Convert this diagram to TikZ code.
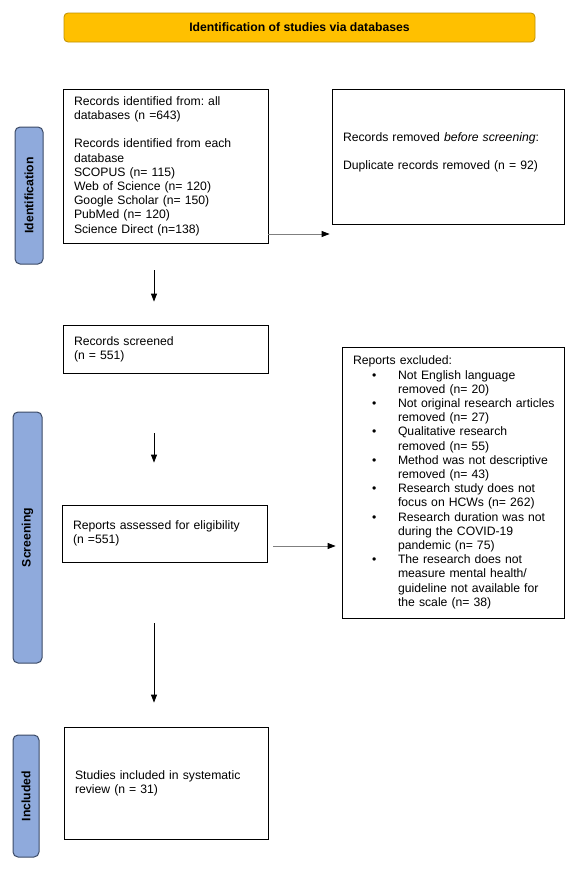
\documentclass[tikz,border=0pt]{standalone}
\usepackage{fontspec}
\setmainfont{Liberation Sans}
\usetikzlibrary{arrows.meta}

\definecolor{headgold}{HTML}{FFC000}
\definecolor{headedge}{HTML}{BF9000}
\definecolor{phaseblue}{HTML}{8FAADC}
\definecolor{phaseedge}{HTML}{3B4A66}
\definecolor{linkgray}{HTML}{7F7F7F}

\newcommand{\exbullet}[1]{\hspace*{19pt}\makebox[26pt][l]{\textbullet}\mbox{#1}}
\newcommand{\excont}[1]{\hspace*{45pt}\mbox{#1}}

\tikzset{
  flowfont/.style={font=\fontsize{12.2}{14.2}\selectfont\frenchspacing},
  stagebox/.style={draw=black, line width=0.8pt, align=left, inner xsep=11pt, inner ysep=4pt, flowfont},
  phasebar/.style={draw=phaseedge, fill=phaseblue, line width=1pt, rounded corners=5pt, font=\fontsize{12.2}{14.2}\selectfont\bfseries},
  flowarrow/.style={-{Triangle[length=8pt,width=6pt]}, line width=0.8pt},
  sidearrow/.style={draw=linkgray, line width=0.8pt, -{Triangle[length=8pt,width=6pt,color=black]}},
}

\begin{document}
\begin{tikzpicture}[x=1pt, y=-1pt]
\useasboundingbox (0,0) rectangle (579,870);

% header
\node[draw=headedge, fill=headgold, line width=0.8pt, rounded corners=4pt, minimum width=471pt, minimum height=29pt, font=\fontsize{12.2}{14.2}\selectfont\bfseries] (header) at (299.5,27.5) {Identification of studies via databases};

% phase bars
\node[phasebar, minimum width=137pt, minimum height=28pt, rotate=90] (identbar) at (29,195.5) {Identification};
\node[phasebar, minimum width=251pt, minimum height=29pt, rotate=90] (screenbar) at (27.5,537.5) {Screening};
\node[phasebar, minimum width=122pt, minimum height=26pt, rotate=90] (inclbar) at (26,796) {Included};

% stage boxes
\node[stagebox, text width=183pt, minimum height=154pt] (ident) at (165.5,166) {Records identified from: all\\ databases (n =643)\\[14.2pt] Records identified from each\\ database\\ SCOPUS (n= 115)\\ Web of Science (n= 120)\\ Google Scholar (n= 150)\\ PubMed (n= 120)\\ Science Direct (n=138)};
\node[stagebox, text width=210pt, minimum height=135pt] (removed) at (448,156.5) {Records removed \textit{before screening}:\\[14.2pt] Duplicate records removed (n = 92)\\[-8pt] \strut};
\node[stagebox, text width=183pt, minimum height=48pt] (screened) at (165.5,349) {Records screened\\ (n = 551)};
\node[stagebox, text width=183pt, minimum height=57pt] (assessed) at (164.5,533.5) {Reports assessed for eligibility\\ (n =551)};
\node[stagebox, text width=200pt, minimum height=271pt] (excluded) at (453,482.5) {Reports excluded:\\
\exbullet{Not English language}\\ \excont{removed (n= 20)}\\
\exbullet{Not original research articles}\\ \excont{removed (n= 27)}\\
\exbullet{Qualitative research}\\ \excont{removed (n= 55)}\\
\exbullet{Method was not descriptive}\\ \excont{removed (n= 43)}\\
\exbullet{Research study does not}\\ \excont{focus on HCWs (n= 262)}\\
\exbullet{Research duration was not}\\ \excont{during the COVID-19}\\ \excont{pandemic (n= 75)}\\
\exbullet{The research does not}\\ \excont{measure mental health/}\\ \excont{guideline not available for}\\ \excont{the scale (n= 38)}};
\node[stagebox, text width=182pt, minimum height=112pt] (included) at (166,783) {Studies included in systematic\\ review (n = 31)};

% connectors
\draw[flowarrow, shorten <=27pt, shorten >=23pt] ([xshift=-11.5pt]ident.south) -- ([xshift=-11.5pt]screened.north);
\draw[flowarrow, shorten <=60pt, shorten >=42pt] ([xshift=-11.5pt]screened.south) -- ([xshift=-11.5pt]screened.south |- assessed.north);
\draw[flowarrow, shorten <=61pt, shorten >=24pt] ([xshift=-10.5pt]assessed.south) -- ([xshift=-12pt]included.north);
\draw[sidearrow, shorten >=2pt] ([yshift=-68pt]ident.east) -- ([yshift=-68pt]ident.east -| removed.west);
\draw[sidearrow, shorten <=6pt, shorten >=6pt] ([yshift=-12.5pt]assessed.east) -- ([yshift=-12.5pt]assessed.east -| excluded.west);
\end{tikzpicture}
\end{document}
